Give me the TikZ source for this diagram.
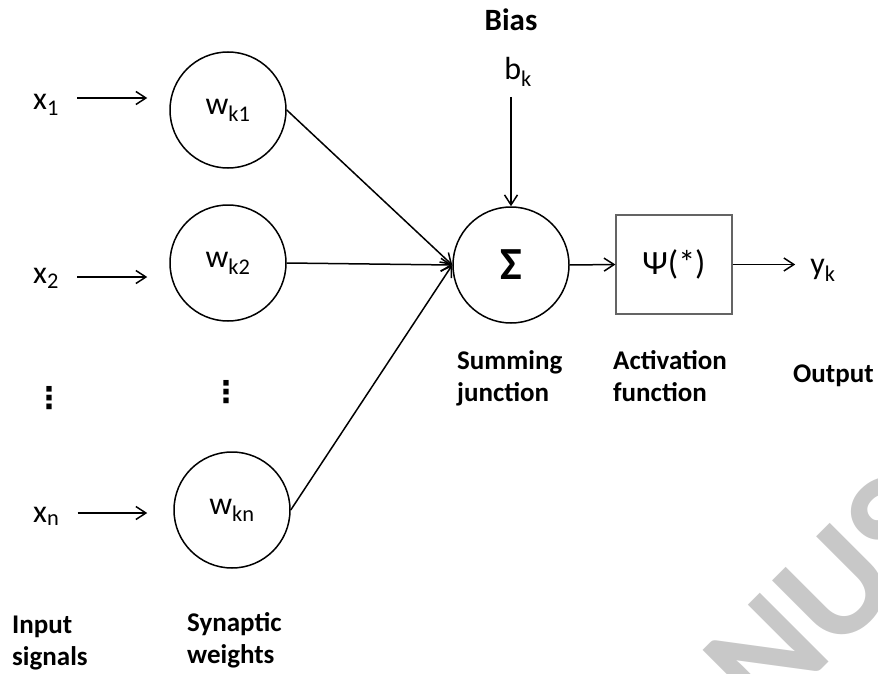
\documentclass[tikz,border=0pt]{standalone}
\usepackage{fontspec}
\setmainfont{Carlito}
\newfontfamily\dotsfont{DejaVu Sans}
\usepackage{tikz}
\usetikzlibrary{arrows.meta}
\definecolor{boxline}{RGB}{100, 100, 100}
\definecolor{stampgray}{RGB}{200, 200, 200}

\begin{document}
\begin{tikzpicture}[x=1pt, y=-1pt, font=\fontsize{32}{38}\selectfont,
  arr/.style={-{Straight Barb[length=10pt, width=13pt]}, line width=1.5pt},
  weight/.style={circle, draw, line width=1.5pt, minimum size=116pt, inner sep=0pt},
  sig/.style={inner sep=0pt},
  vdot/.style={inner sep=0pt, font=\fontsize{30}{30}\dotsfont\bfseries},
  caption/.style={font=\fontsize{27}{32}\selectfont\bfseries, align=left, inner sep=0pt}]

  \useasboundingbox (0, 0) rectangle (878, 674);

  \begin{scope}
    \clip (0, 0) rectangle (878, 674);
    \node[text=stampgray, rotate=45, font=\fontsize{150}{150}\selectfont\bfseries] (stamp) at (826, 596) {NUS};
  \end{scope}

  \foreach \n/\xw/\yw/\yx/\yb in {1/228/110/98/110, 2/228/263/277/283, n/232/510/513/522} {
    \pgfmathsetmacro{\gap}{\xw - 58 - 148}
    \node[sig, anchor=base west] (x\n) at (33, \yb) {x\textsubscript{\n}};
    \node[weight] (w\n) at (\xw, \yw) {w\textsubscript{k\n}};
    \draw[arr, shorten <=18pt, shorten >=\gap pt] (x\n.east |- 0, \yx) -- (w\n.west |- 0, \yx);
  }

  \node[vdot] (xdots) at (49, 398) {⋮};
  \node[vdot] (wdots) at (226, 392) {⋮};

  \node[weight] (sum) at (511, 265) {\fontsize{46}{46}\selectfont\bfseries Σ};
  \node[draw=boxline, line width=1.2pt, minimum width=116pt, minimum height=99pt] (act)
    at (674, 264.5) {\fontsize{34}{34}\selectfont Ψ(*)};

  \foreach \n in {1, 2, n} {
    \draw[arr] (w\n.east) -- (sum.west);
  }

  \node[caption, font=\fontsize{31}{36}\selectfont\bfseries] (bias) at (511, 20) {Bias};
  \node[sig] (bk) at (518, 72) {b\textsubscript{k}};
  \draw[arr, shorten <=10pt] (sum.north |- bk.south) -- (sum.north);

  \node[sig] (yk) at (823, 270) {y\textsubscript{k}};
  \draw[arr] (sum.east) -- (act.west);
  \draw[arr, shorten >=15pt] (act.east) -- (act.east -| yk.west);

  \node[caption, anchor=north west] (sumcap) at (457, 350) {Summing\\junction};
  \node[caption, anchor=north west] (actcap) at (613, 350) {Activation\\function};
  \node[caption, anchor=west] (outcap) at (793, 376) {Output};
  \node[caption, anchor=north west] (incap) at (12, 616) {Input\\signals};
  \node[caption, anchor=north west] (wcap) at (187, 612) {Synaptic\\weights};

\end{tikzpicture}
\end{document}
